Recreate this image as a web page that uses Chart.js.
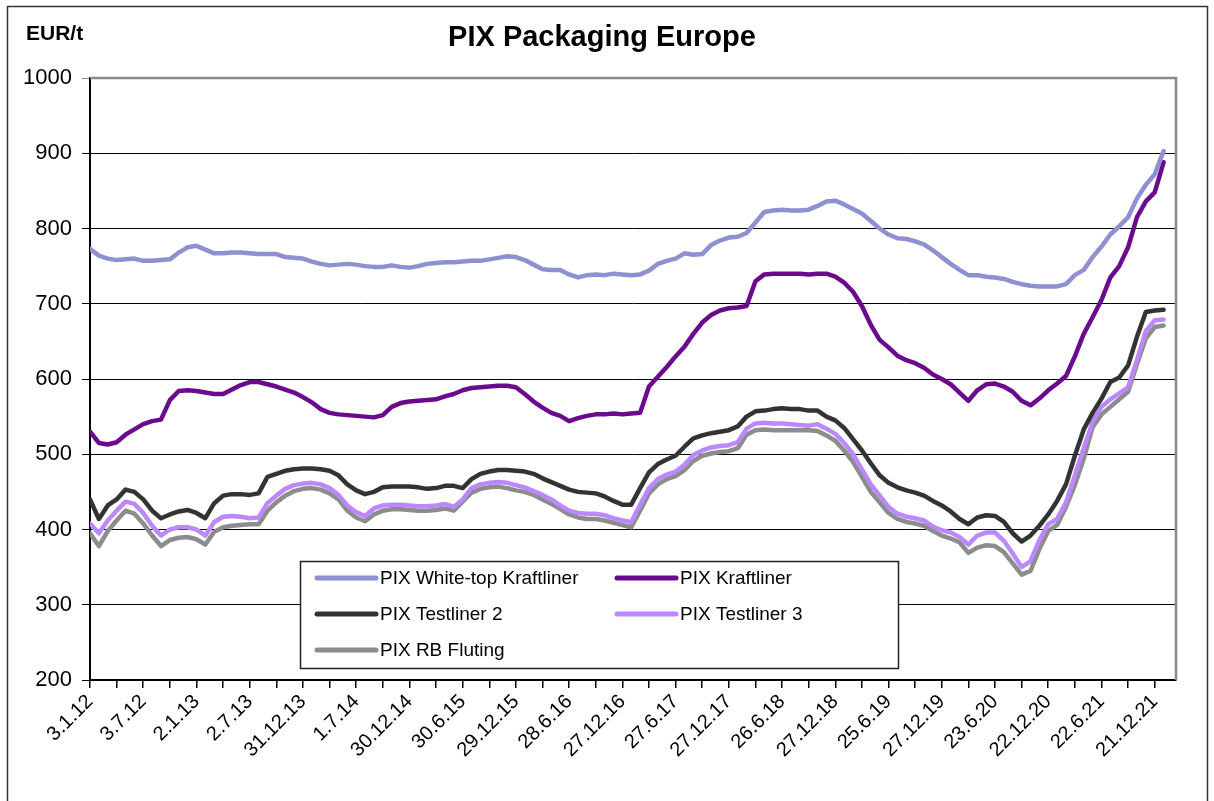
<!DOCTYPE html>
<html>
<head>
<meta charset="utf-8">
<title>PIX Packaging Europe</title>
<script src="https://cdn.jsdelivr.net/npm/chart.js@4/dist/chart.umd.min.js"></script>
<style>
  html, body { margin: 0; padding: 0; background: #fff; }
  #wrap { width: 1214px; height: 801px; }
</style>
</head>
<body>
<div id="wrap"><canvas id="pixChart" width="1214" height="801"></canvas></div>
<script>
// tick labels, one every two quarters (x index = month step)
const dateLabels = ['3.1.12', '3.7.12', '2.1.13', '2.7.13', '31.12.13', '1.7.14', '30.12.14',
  '30.6.15', '29.12.15', '28.6.16', '27.12.16', '27.6.17', '27.12.17', '26.6.18', '27.12.18',
  '25.6.19', '27.12.19', '23.6.20', '22.12.20', '22.6.21', '21.12.21'];

const seriesNames = ['PIX White-top Kraftliner', 'PIX Kraftliner', 'PIX Testliner 2', 'PIX Testliner 3', 'PIX RB Fluting'];

// EUR/t, roughly monthly readings from Jan 2012 to Jan 2022
const whiteTop = [
  773, 764, 760, 758, 759, 760, 757, 757, 758, 759, 768, 775, 777, 772, 767, 767, 768, 768, 767, 766, 766,
  766, 762, 761, 760, 756, 753, 751, 752, 753, 752, 750, 749, 749, 751, 749, 748, 750, 753, 754, 755,
  755, 756, 757, 757, 759, 761, 763, 762, 758, 752, 746, 745, 745, 739, 735, 738, 739, 738, 740, 739,
  738, 739, 744, 753, 757, 760, 767, 765, 766, 778, 784, 788, 789, 794, 808, 822, 824, 825, 824, 824, 825,
  830, 836, 837, 832, 826, 820, 810, 800, 792, 787, 786, 783, 779, 771, 762, 753, 745, 738, 738, 736,
  735, 733, 729, 726, 724, 723, 723, 723, 726, 738, 745, 762, 776, 792, 803, 815, 840, 858, 872, 903
];
const kraftliner = [
  530, 515, 513, 516, 526, 533, 540, 544, 546, 572, 584, 585, 584, 582, 580, 580, 586, 592, 596, 596, 593,
  590, 586, 582, 576, 569, 560, 555, 553, 552, 551, 550, 549, 552, 563, 568, 570, 571, 572, 573, 577,
  580, 585, 588, 589, 590, 591, 591, 589, 580, 570, 562, 555, 551, 544, 548, 551, 553, 553, 554, 553,
  554, 555, 590, 603, 616, 630, 643, 660, 675, 685, 691, 694, 695, 697, 730, 739, 740, 740, 740, 740, 739,
  740, 740, 736, 728, 716, 697, 672, 652, 642, 631, 625, 621, 615, 606, 600, 593, 582, 571, 585, 593,
  594, 590, 583, 571, 565, 574, 585, 594, 604, 630, 660, 682, 705, 735, 750, 775, 815, 836, 848, 888
];
const testliner2 = [
  440, 414, 432, 440, 453, 450, 440, 425, 415, 420, 424, 426, 422, 415, 435, 445, 447, 447, 446, 448, 470,
  474, 478, 480, 481, 481, 480, 478, 472, 460, 452, 447, 450, 456, 457, 457, 457, 456, 454, 455, 458,
  458, 455, 467, 474, 477, 479, 479, 478, 477, 474, 468, 463, 458, 453, 450, 449, 448, 444, 438, 433,
  433, 455, 476, 487, 493, 498, 510, 521, 525, 528, 530, 532, 537, 550, 557, 558, 560, 561, 560, 560, 558,
  558, 550, 545, 535, 520, 505, 488, 472, 462, 456, 452, 449, 445, 438, 432, 424, 414, 407, 416, 419,
  418, 410, 395, 384, 392, 405, 420, 438, 460, 498, 533, 555, 574, 596, 602, 618, 656, 689, 691, 692
];
const testliner3 = [
  408, 395, 412, 425, 437, 434, 422, 405, 392, 400, 403, 403, 400, 392, 410, 417, 418, 417, 415, 416, 435,
  445, 454, 459, 461, 462, 460, 455, 446, 432, 423, 418, 428, 432, 433, 433, 432, 431, 431, 432, 434,
  430, 440, 455, 460, 462, 463, 462, 459, 456, 451, 446, 440, 432, 425, 422, 421, 421, 419, 415, 412,
  410, 433, 455, 467, 473, 477, 486, 499, 505, 509, 511, 512, 516, 534, 541, 542, 541, 541, 540, 539, 538,
  540, 534, 527, 515, 500, 480, 460, 445, 430, 421, 417, 415, 412, 404, 399, 396, 390, 380, 392, 396,
  396, 385, 368, 350, 358, 386, 407, 414, 436, 472, 508, 543, 563, 573, 581, 589, 625, 664, 678, 679
];
const rbFluting = [
  395, 378, 398, 412, 425, 421, 408, 392, 378, 386, 389, 390, 387, 380, 397, 403, 405, 406, 407, 407, 425,
  436, 445, 451, 454, 455, 453, 448, 440, 425, 416, 411, 420, 425, 427, 427, 426, 425, 425, 426, 428,
  425, 437, 449, 454, 456, 457, 455, 452, 450, 446, 440, 434, 427, 420, 416, 414, 414, 412, 409, 406,
  403, 425, 448, 460, 467, 471, 479, 491, 498, 501, 503, 504, 508, 526, 532, 533, 532, 532, 532, 532, 532,
  531, 525, 518, 505, 490, 470, 450, 436, 422, 414, 410, 408, 405, 398, 392, 388, 383, 369, 376, 379,
  378, 370, 355, 340, 345, 374, 398, 406, 430, 459, 494, 536, 553, 563, 573, 583, 620, 654, 669, 671
];

const seriesValues = [whiteTop, kraftliner, testliner2, testliner3, rbFluting];
const seriesColors = ['#8e90d2', '#6b0a8c', '#333333', '#bb88ff', '#8c8c8c'];

const FONT = "'Liberation Sans', Arial, sans-serif";

function toPoints(values) {
  return values.map((v, i) => ({ x: i, y: v }));
}

// frame, title, unit label, plot border and the boxed legend
const decorations = {
  id: 'decorations',
  beforeDraw(chart) {
    const ctx = chart.ctx;
    ctx.save();
    ctx.fillStyle = '#fff';
    ctx.fillRect(0, 0, chart.width, chart.height);
    ctx.strokeStyle = '#333';
    ctx.lineWidth = 1.5;
    ctx.strokeRect(7.5, 6.5, 1200, 820);
    ctx.restore();
  },
  beforeDatasetsDraw(chart) {
    const { ctx, chartArea: a } = chart;
    ctx.save();
    ctx.strokeStyle = '#8a8a8a';
    ctx.lineWidth = 2.5;
    ctx.beginPath();
    ctx.moveTo(a.left, a.top);
    ctx.lineTo(a.right, a.top);
    ctx.lineTo(a.right, a.bottom);
    ctx.stroke();
    ctx.restore();
  },
  afterDatasetsDraw(chart) {
    const ctx = chart.ctx;
    const box = { x: 300.5, y: 561.5, w: 598, h: 107 };
    ctx.save();
    ctx.fillStyle = '#fff';
    ctx.fillRect(box.x, box.y, box.w, box.h);
    ctx.strokeStyle = '#222';
    ctx.lineWidth = 1.5;
    ctx.strokeRect(box.x, box.y, box.w, box.h);
    ctx.font = '19px ' + FONT;
    ctx.textBaseline = 'middle';
    ctx.lineCap = 'round';
    chart.data.datasets.forEach((ds, i) => {
      const col = i % 2, row = Math.floor(i / 2);
      const x0 = col === 0 ? 317 : 617;
      const y = 578 + row * 36;
      ctx.strokeStyle = ds.borderColor;
      ctx.lineWidth = 5;
      ctx.beginPath();
      ctx.moveTo(x0, y);
      ctx.lineTo(x0 + 59, y);
      ctx.stroke();
      ctx.fillStyle = '#000';
      ctx.fillText(ds.label, x0 + 63, y + 1);
    });
    ctx.restore();
  },
  afterDraw(chart) {
    const ctx = chart.ctx;
    ctx.save();
    ctx.fillStyle = '#000';
    ctx.textBaseline = 'middle';
    ctx.textAlign = 'center';
    ctx.font = 'bold 29px ' + FONT;
    ctx.fillText('PIX Packaging Europe', 602, 38);
    ctx.textAlign = 'left';
    ctx.font = 'bold 21px ' + FONT;
    ctx.fillText('EUR/t', 26, 34);
    ctx.restore();
  }
};

new Chart(document.getElementById('pixChart'), {
  type: 'line',
  data: {
    datasets: seriesNames.map((name, i) => ({
      label: name,
      data: toPoints(seriesValues[i]),
      borderColor: seriesColors[i],
      backgroundColor: seriesColors[i],
      borderWidth: 4.5,
      pointRadius: 0,
      tension: 0,
      borderJoinStyle: 'round',
      borderCapStyle: 'round'
    }))
  },
  options: {
    responsive: false,
    animation: false,
    devicePixelRatio: 1,
    layout: { padding: { left: 0, right: 38, top: 78, bottom: 0 } },
    plugins: {
      legend: { display: false },
      tooltip: { enabled: false }
    },
    scales: {
      x: {
        type: 'linear',
        min: 0,
        max: 122.4,
        afterBuildTicks: scale => {
          // quarterly tick marks, labels every second one
          scale.ticks = Array.from({ length: 41 }, (_, k) => ({ value: k * 3 }));
        },
        afterFit: scale => { scale.height = 121; },
        ticks: {
          autoSkip: false,
          minRotation: 45,
          maxRotation: 45,
          padding: 2,
          color: '#000',
          font: { family: FONT, size: 20 },
          callback: v => (v % 6 === 0 ? dateLabels[v / 6] : '')
        },
        grid: { drawOnChartArea: false, drawTicks: true, tickLength: 8, color: '#000', lineWidth: 1.5 },
        border: { color: '#000', width: 2 }
      },
      y: {
        min: 200,
        max: 1000,
        afterFit: scale => { scale.width = 90; },
        ticks: {
          stepSize: 100,
          padding: 10,
          color: '#000',
          font: { family: FONT, size: 22 },
          callback: v => String(v)
        },
        grid: {
          color: ctx => (ctx.tick && ctx.tick.value === 1000 ? '#8a8a8a' : '#000'),
          lineWidth: 1,
          tickLength: 8
        },
        border: { color: '#000', width: 2 }
      }
    }
  },
  plugins: [decorations]
});
</script>
</body>
</html>
